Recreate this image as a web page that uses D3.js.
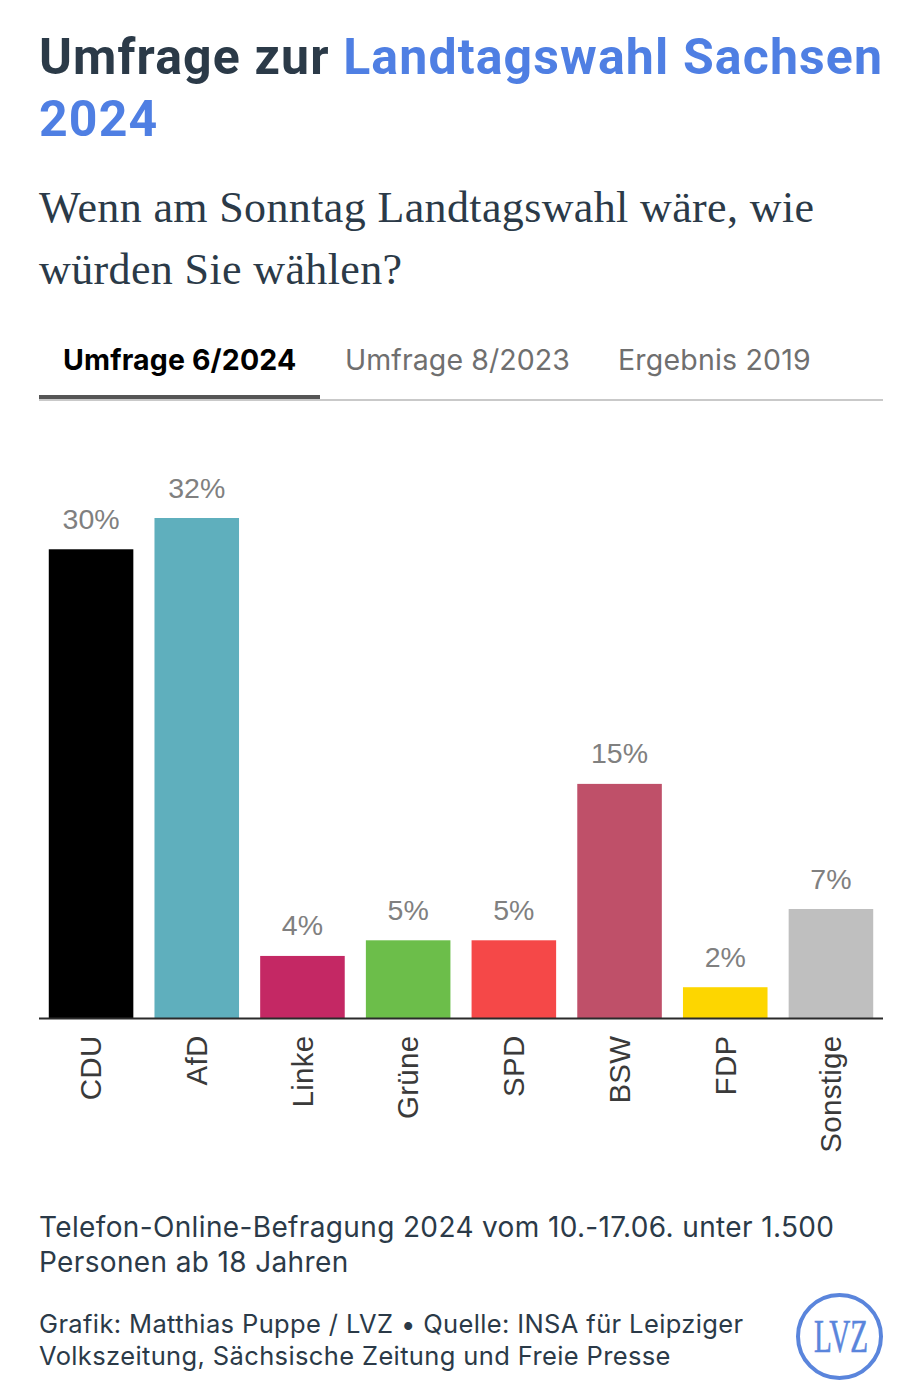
<!DOCTYPE html>
<html><head><meta charset="utf-8">
<script src="https://cdn.jsdelivr.net/npm/d3@7"></script>
<style>html,body{margin:0;padding:0;background:#fff}svg{display:block}text{font-family:Inter,sans-serif}</style>
</head><body><div id="c"></div>
<script>
const categories=["CDU","AfD","Linke","Grüne","SPD","BSW","FDP","Sonstige"];
const values=[30,32,4,5,5,15,2,7];
const colors=["#000000","#5fafbd","#c42864","#6cbe4a","#f54848","#bf5069","#fdd600","#bfbfbf"];
const tabs=["Umfrage 6/2024","Umfrage 8/2023","Ergebnis 2019"];
const W=921,H=1399;
const svg=d3.select("#c").append("svg").attr("width",W).attr("height",H);
const T=(x,y,s,size,fill,extra={})=>{const t=svg.append("text").attr("x",x).attr("y",y).attr("font-size",size).attr("fill",fill).text(s);
 for(const k in extra)t.attr(k,extra[k]);return t;};
const dark="#2b3a48",blue="#4f7fe3";
// title
const tt=svg.append("text").attr("x",39).attr("y",74).attr("font-size",50).attr("font-weight",700)
 .style("font-family","Roboto").attr("letter-spacing",1.13);
tt.append("tspan").attr("fill",dark).text("Umfrage zur ");
tt.append("tspan").attr("fill",blue).text("Landtagswahl Sachsen");
T(39,136,"2024",50,blue,{"font-weight":700,"letter-spacing":1.13}).style("font-family","Roboto");
// subtitle
T(39,222,"Wenn am Sonntag Landtagswahl wäre, wie",44,dark,{"letter-spacing":0.37}).style("font-family","Liberation Serif");
T(39,284,"würden Sie wählen?",44,dark,{"letter-spacing":0.37}).style("font-family","Liberation Serif");
// tabs
T(63,370,tabs[0],28.5,"#000",{"font-weight":700,"letter-spacing":0.15});
T(345,370,tabs[1],28.5,"#6f6f6f",{"letter-spacing":0.08});
T(618,370,tabs[2],28.5,"#6f6f6f",{"letter-spacing":0.2});
svg.append("rect").attr("x",39).attr("y",399).attr("width",844).attr("height",2).attr("fill","#c9c9c9");
svg.append("rect").attr("x",39).attr("y",395).attr("width",281).attr("height",4).attr("fill","#555555");
// chart
const x=d3.scaleBand().domain(categories).range([39,883]).paddingInner(0.2).paddingOuter(0.0925);
const y=d3.scaleLinear().domain([0,32]).range([1018.5,518]);
const data=categories.map((c,i)=>({c,v:values[i],col:colors[i]}));
svg.selectAll("rect.bar").data(data).join("rect").attr("class","bar")
 .attr("x",d=>x(d.c)).attr("width",x.bandwidth()).attr("y",d=>y(d.v)).attr("height",d=>y(0)-y(d.v)).attr("fill",d=>d.col);
svg.selectAll("text.val").data(data).join("text").attr("class","val")
 .attr("x",d=>x(d.c)+x.bandwidth()/2).attr("y",d=>y(d.v)-20.5).attr("text-anchor","middle")
 .attr("font-size",28.5).attr("fill","#808080").style("font-family","Liberation Sans").text(d=>d.v+"%");
const ax=svg.append("g").attr("transform",`translate(0,${y(0)})`).call(d3.axisBottom(x).tickSize(0).tickPadding(0));
ax.select(".domain").attr("stroke","#2a2a2a").attr("stroke-width",2).attr("d","M39,0H883");
ax.selectAll(".tick text").attr("transform","translate(0,17) rotate(-90)").attr("text-anchor","end").attr("dy","0.35em").attr("y",0).attr("x",0)
 .attr("font-size",29.5).attr("letter-spacing",0.3).attr("fill","#3a3a3a").style("font-family","Liberation Sans");
// notes
T(39,1237,"Telefon-Online-Befragung 2024 vom 10.-17.06. unter 1.500",28,dark,{"letter-spacing":0.36});
T(39,1272,"Personen ab 18 Jahren",28,dark,{"letter-spacing":0.36});
T(39,1333,"Grafik: Matthias Puppe / LVZ • Quelle: INSA für Leipziger",25.5,dark,{"letter-spacing":0.37});
T(39,1365,"Volkszeitung, Sächsische Zeitung und Freie Presse",25.5,dark,{"letter-spacing":0.37});
// logo
svg.append("circle").attr("cx",839.5).attr("cy",1336.5).attr("r",41.5).attr("fill","none").attr("stroke","#5a85dc").attr("stroke-width",4);
T(841,1352,"LVZ",46,"#5a85dc",{"text-anchor":"middle","stroke":"#5a85dc","stroke-width":0.6}).style("font-family","Liberation Serif").attr("textLength",54).attr("lengthAdjust","spacingAndGlyphs");
</script></body></html>
